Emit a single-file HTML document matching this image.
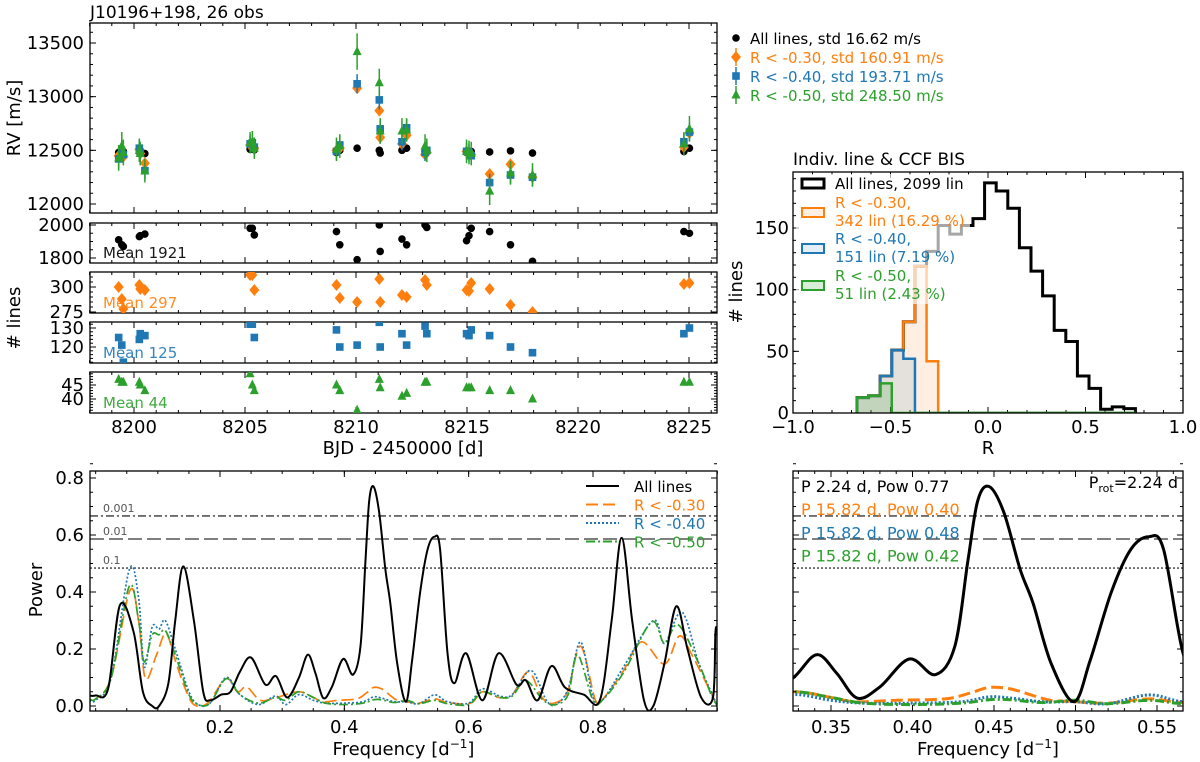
<!DOCTYPE html>
<html><head><meta charset="utf-8"><style>
html,body{margin:0;padding:0;background:#fff;}
svg{display:block;font-family:"DejaVu Sans","Liberation Sans",sans-serif;}
</style></head><body>
<svg id="fig" width="1200" height="762" viewBox="0 0 1200 762" xmlns="http://www.w3.org/2000/svg"></svg>
<script>
// ---------- DATA ----------
const obsTimes=[8199.31,8199.45,8199.52,8200.24,8200.28,8200.49,8205.23,8205.33,8205.42,8209.12,8209.27,8210.05,8211.05,8211.09,8212.07,8212.28,8213.11,8213.19,8214.98,8215.09,8215.19,8216.02,8216.96,8217.95,8224.77,8225.02];
const rvAll=[12480,12470,12490,12490,12480,12470,12510,12520,12505,12480,12500,12520,12500,12475,12500,12520,12490,12500,12480,12470,12490,12485,12495,12475,12490,12520];
const rvR30=[12450,12460,12440,12510,12470,12380,12550,12540,12520,12500,12520,13080,12870,12620,12560,12640,12460,12480,12490,12470,12460,12280,12370,12250,12530,12660];
const rvR40=[12420,12490,12460,12520,12480,12310,12560,12570,12530,12490,12550,13120,12970,12700,12580,12710,12480,12500,12490,12480,12450,12200,12270,12250,12580,12670];
const rvR50=[12430,12540,12480,12500,12470,12310,12570,12580,12520,12510,12540,13420,13130,12680,12680,12690,12540,12500,12490,12480,12470,12120,12290,12270,12560,12700];
const errR40=[80,80,80,80,80,80,80,80,80,80,80,90,90,80,80,80,80,80,80,80,80,80,80,80,80,80];
const errR50=[120,130,120,110,110,110,100,100,100,110,110,170,130,120,120,110,110,110,110,110,110,130,110,110,110,120];
const nAll=[1910,1880,1870,1930,1935,1945,1980,1980,1940,1960,1880,1790,2000,1840,1915,1880,2000,1985,1905,1935,1980,1960,1880,1780,1960,1950];
const nR30=[300,288,278,302,298,297,312,312,297,302,289,285,308,285,292,290,307,302,297,296,304,298,282,275,303,304];
const nR40=[125,121,112,124,127,126,132,132,125,129,120,121,133,120,127,121,131,127,127,126,129,126,120,117,127,130];
const nR50=[47,46,46,46,45,43,49,45,43,45,43,36,47,44,41,42,46,46,44,44,44,43,43,40,46,46];

const binStart=-0.672, binWidth=0.0595;
const histAll=[12.5,14,30,51,74,119,131,152,145,152,157.6,186.6,180,166,134,115,95,67,58,30,20,3,5,3.5];
const histR30=[12.5,14,30,51,74,119,42,0,0,0,0,0,0,0,0,0,0,0,0,0,0,0,0,0];
const histR40=[12.5,14,30,51,44,0,0,0,0,0,0,0,0,0,0,0,0,0,0,0,0,0,0,0];
const histR50=[12.5,14,24,0,0,0,0,0,0,0,0,0,0,0,0,0,0,0,0,0,0,0,0,0];

const fapLevels=[0.667,0.586,0.484];
const fapLabels=["0.001","0.01","0.1"];

const freqAll=[-0.01,0.0,0.02,0.039,0.061,0.076,0.091,0.102,0.117,0.128,0.141,0.158,0.173,0.184,0.202,0.217,0.232,0.25,0.273,0.29,0.308,0.3267,0.3412,0.3535,0.366,0.38,0.398,0.414,0.426,0.434,0.44,0.447,0.456,0.466,0.474,0.485,0.499,0.509,0.522,0.534,0.545,0.554,0.566,0.577,0.596,0.622,0.648,0.677,0.692,0.711,0.733,0.755,0.785,0.811,0.83,0.846,0.863,0.882,0.897,0.915,0.934,0.952,0.974,0.993,0.997,1.0];
const powAll=[0.037,0.037,0.06,0.354,0.26,0.05,0.0,0.0,0.08,0.3,0.49,0.3,0.05,0.02,0.04,0.05,0.12,0.17,0.075,0.105,0.03,0.098,0.18,0.115,0.028,0.067,0.165,0.11,0.21,0.51,0.72,0.77,0.68,0.48,0.36,0.15,0.015,0.16,0.40,0.55,0.594,0.55,0.185,0.08,0.185,0.02,0.185,0.075,0.09,0.02,0.14,0.065,0.04,0.02,0.3,0.59,0.3,0.02,0.0,0.15,0.35,0.2,0.03,0.03,0.26,0.26];

const freqR30=[-0.01,0.0,0.025,0.055,0.069,0.08,0.098,0.113,0.128,0.143,0.158,0.18,0.21,0.228,0.243,0.265,0.291,0.3267,0.35,0.365,0.39,0.42,0.435,0.447,0.46,0.475,0.485,0.5,0.52,0.545,0.566,0.603,0.622,0.648,0.67,0.696,0.718,0.737,0.759,0.78,0.804,0.818,0.848,0.878,0.915,0.939,0.959,0.989,1.0];
const powR30=[0.025,0.025,0.1,0.405,0.3,0.096,0.18,0.255,0.16,0.067,0.005,0.01,0.096,0.05,0.067,0.02,0.03,0.05,0.03,0.015,0.02,0.025,0.045,0.065,0.06,0.035,0.02,0.015,0.01,0.025,0.012,0.01,0.05,0.03,0.04,0.12,0.03,0.01,0.05,0.21,0.02,0.03,0.12,0.225,0.147,0.246,0.18,0.05,0.0];

const freqR40=[-0.01,0.0,0.025,0.054,0.069,0.078,0.091,0.102,0.112,0.128,0.15,0.165,0.184,0.21,0.232,0.262,0.289,0.306,0.3267,0.35,0.37,0.4,0.43,0.447,0.46,0.48,0.5,0.52,0.545,0.566,0.6,0.622,0.65,0.67,0.7,0.725,0.74,0.76,0.78,0.8,0.815,0.85,0.897,0.915,0.943,0.97,0.99,1.0];
const powR40=[0.02,0.02,0.1,0.478,0.38,0.137,0.278,0.27,0.3,0.2,0.05,0.005,0.01,0.1,0.04,0.005,0.035,0.005,0.04,0.02,0.01,0.01,0.015,0.032,0.028,0.015,0.015,0.008,0.039,0.015,0.01,0.06,0.035,0.04,0.125,0.02,0.005,0.06,0.225,0.03,0.02,0.14,0.3,0.22,0.33,0.15,0.05,0.0];

const freqR50=[-0.01,0.0,0.025,0.054,0.069,0.078,0.091,0.102,0.112,0.128,0.15,0.165,0.184,0.21,0.232,0.262,0.289,0.306,0.3267,0.35,0.37,0.4,0.43,0.447,0.46,0.48,0.5,0.52,0.545,0.566,0.6,0.622,0.65,0.67,0.692,0.72,0.74,0.76,0.775,0.8,0.815,0.85,0.894,0.915,0.937,0.97,0.99,1.0];
const powR50=[0.025,0.025,0.1,0.42,0.3,0.155,0.25,0.25,0.265,0.18,0.04,0.005,0.01,0.096,0.04,0.01,0.03,0.02,0.05,0.03,0.01,0.005,0.01,0.022,0.022,0.012,0.02,0.008,0.02,0.008,0.005,0.05,0.03,0.035,0.09,0.02,0.005,0.04,0.18,0.02,0.02,0.12,0.295,0.22,0.285,0.15,0.04,0.0];

// ---------- HELPERS ----------
const NS="http://www.w3.org/2000/svg";
const svg=document.getElementById('fig');
const C={k:'#000',o:'#ff7f0e',b:'#1f77b4',g:'#2ca02c'};
function mk(tag,attrs,parent){const e=document.createElementNS(NS,tag);for(const k in attrs)e.setAttribute(k,attrs[k]);(parent||svg).appendChild(e);return e;}
function lin(d0,d1,r0,r1){return v=>r0+(v-d0)*(r1-r0)/(d1-d0);}
function txt(s,x,y,o,parent){const t=mk('text',Object.assign({x:x,y:y,'font-size':17,fill:'#000'},o||{}),parent);t.textContent=s;return t;}
function frame(x0,y0,x1,y1,name){const r=mk('rect',{x:x0,y:y0,width:x1-x0,height:y1-y0,fill:'none',stroke:'#000','stroke-width':1.3});return r;}
function ticksX(sx,vals,y0,y1,len,g){vals.forEach(v=>{const x=sx(v);mk('line',{x1:x,x2:x,y1:y1,y2:y1-len,stroke:'#000','stroke-width':1},g);mk('line',{x1:x,x2:x,y1:y0,y2:y0+len,stroke:'#000','stroke-width':1},g);});}
function ticksY(sy,vals,x0,x1,len,g){vals.forEach(v=>{const y=sy(v);mk('line',{x1:x0,x2:x0+len,y1:y,y2:y,stroke:'#000','stroke-width':1},g);mk('line',{x1:x1,x2:x1-len,y1:y,y2:y,stroke:'#000','stroke-width':1},g);});}
function range(a,b,s){const r=[];for(let v=a;v<=b+1e-9;v+=s)r.push(Math.round(v*1e6)/1e6);return r;}
function smoothPath(pts){let d='M'+pts[0][0]+','+pts[0][1];for(let i=0;i<pts.length-1;i++){const p0=pts[Math.max(0,i-1)],p1=pts[i],p2=pts[i+1],p3=pts[Math.min(pts.length-1,i+2)];const c1x=p1[0]+(p2[0]-p0[0])/6,c1y=p1[1]+(p2[1]-p0[1])/6,c2x=p2[0]-(p3[0]-p1[0])/6,c2y=p2[1]-(p3[1]-p1[1])/6;d+=`C${c1x},${c1y},${c2x},${c2y},${p2[0]},${p2[1]}`;}return d;}
function clip(id,x0,y0,x1,y1){const cp=mk('clipPath',{id:id});mk('rect',{x:x0,y:y0,width:x1-x0,height:y1-y0},cp);}

// ---------- TOP LEFT: RV ----------
const RX0=90,RX1=717;
const tx=lin(8200,8225,134,689);
const ry=lin(12000,13500,204,43);
txt('J10196+198, 26 obs',90,18,{'font-size':17});
const gRV=mk('g',{});
frame(RX0,23,RX1,213,'rv-frame');
ticksX(tx,range(8198,8226,1),23,213,3,gRV);ticksX(tx,range(8200,8225,5),23,213,6,gRV);
ticksY(ry,range(12000,13600,100),RX0,RX1,3,gRV);ticksY(ry,range(12000,13500,500),RX0,RX1,6,gRV);
[12000,12500,13000,13500].forEach(v=>{const t=txt(String(v),84,ry(v)+6,{'text-anchor':'end','font-size':18});});
const yl=txt('RV [m/s]',0,0,{'font-size':18,transform:'translate(20,118) rotate(-90)','text-anchor':'middle'});
function marker(type,x,y,col,g){
  if(type==='c')return mk('circle',{cx:x,cy:y,r:3.8,fill:col},g);
  if(type==='d')return mk('polygon',{points:`${x},${y-6} ${x+5},${y} ${x},${y+6} ${x-5},${y}`,fill:col},g);
  if(type==='s')return mk('rect',{x:x-3.8,y:y-3.8,width:7.6,height:7.6,fill:col},g);
  return mk('polygon',{points:`${x},${y-5.5} ${x+4.5},${y+3.5} ${x-4.5},${y+3.5}`,fill:col},g);
}
clip('cRV',RX0,23,RX1,213);
const gRVd=mk('g',{'clip-path':'url(#cRV)'});
obsTimes.forEach((t,i)=>{const m=marker('c',tx(t),ry(rvAll[i]),C.k,gRVd);});
obsTimes.forEach((t,i)=>{mk('line',{x1:tx(t),x2:tx(t),y1:ry(rvR30[i]-25),y2:ry(rvR30[i]+25),stroke:C.o,'stroke-width':1.5},gRVd);const m=marker('d',tx(t),ry(rvR30[i]),C.o,gRVd);});
obsTimes.forEach((t,i)=>{mk('line',{x1:tx(t),x2:tx(t),y1:ry(rvR40[i]-errR40[i]),y2:ry(rvR40[i]+errR40[i]),stroke:C.b,'stroke-width':1.5},gRVd);const m=marker('s',tx(t),ry(rvR40[i]),C.b,gRVd);});
obsTimes.forEach((t,i)=>{mk('line',{x1:tx(t),x2:tx(t),y1:ry(rvR50[i]-errR50[i]),y2:ry(rvR50[i]+errR50[i]),stroke:C.g,'stroke-width':1.5},gRVd);const m=marker('t',tx(t),ry(rvR50[i]),C.g,gRVd);});
// legend
const legRV=[['c',C.k,'All lines, std 16.62 m/s'],['d',C.o,'R < -0.30, std 160.91 m/s'],['s',C.b,'R < -0.40, std 193.71 m/s'],['t',C.g,'R < -0.50, std 248.50 m/s']];
legRV.forEach((l,i)=>{const y=38+i*19;if(i>0)mk('line',{x1:736,x2:736,y1:y-9,y2:y+9,stroke:l[1],'stroke-width':1.5});marker(l[0],736,y,l[1]);const t=txt(l[2],750,y+6,{fill:l[1],'font-size':15});});

// ---------- SUBPANELS: # lines ----------
const subs=[
 {y0:223,y1:263,d0:1800,d1:2000,p0:258,p1:225,vals:nAll,col:C.k,m:'c',maj:[1800,2000],minStep:50,mn:1750,mx:2050,lab:'Mean 1921',name:'nlines-all'},
 {y0:272,y1:313,d0:275,d1:300,p0:312,p1:287,vals:nR30,col:C.o,m:'d',maj:[275,300],minStep:5,mn:270,mx:320,lab:'Mean 297',name:'nlines-r030'},
 {y0:322,y1:363,d0:120,d1:130,p0:347,p1:328,vals:nR40,col:C.b,m:'s',maj:[120,130],minStep:2,mn:110,mx:134,lab:'Mean 125',name:'nlines-r040'},
 {y0:372,y1:413,d0:40,d1:45,p0:399,p1:385,vals:nR50,col:C.g,m:'t',maj:[40,45],minStep:1,mn:35,mx:50,lab:'Mean 44',name:'nlines-r050'}];
subs.forEach((s,k)=>{
  const sy=lin(s.d0,s.d1,s.p0,s.p1);
  const g=mk('g',{});
  frame(RX0,s.y0,RX1,s.y1,s.name+'-frame');
  ticksX(tx,range(8198,8226,1),s.y0,s.y1,3,g);ticksX(tx,range(8200,8225,5),s.y0,s.y1,6,g);
  ticksY(sy,range(s.mn,s.mx,s.minStep).filter(v=>sy(v)>=s.y0&&sy(v)<=s.y1),RX0,RX1,3,g);
  ticksY(sy,s.maj,RX0,RX1,6,g);
  s.maj.forEach(v=>{const t=txt(String(v),84,sy(v)+6,{'text-anchor':'end','font-size':18});});
  const id='cS'+k;clip(id,RX0,s.y0,RX1,s.y1);
  const gd=mk('g',{'clip-path':`url(#${id})`});
  s.vals.forEach((v,i)=>{const m=marker(s.m,tx(obsTimes[i]),sy(v),s.col,gd);});
  const t=txt(s.lab,103,s.y1-5,{fill:s.col,'font-size':15,opacity:0.9});
});
[8200,8205,8210,8215,8220,8225].forEach(v=>{const t=txt(String(v),tx(v),433,{'text-anchor':'middle','font-size':18});});
txt('BJD - 2450000 [d]',403,454,{'text-anchor':'middle','font-size':18});
txt('# lines',0,0,{'font-size':18,transform:'translate(20,318) rotate(-90)','text-anchor':'middle'});

// ---------- HISTOGRAM ----------
const HX0=793,HX1=1183,HY0=172,HY1=413;
const hx=lin(-1,1,HX0,HX1), hy=lin(0,150,413,228);
txt('Indiv. line & CCF BIS',793,165,{'font-size':17});
const gH=mk('g',{});
clip('cH',HX0,HY0,HX1,HY1);
const gHd=mk('g',{'clip-path':'url(#cH)'});
function stepPath(arr){let d=`M${hx(binStart)},${hy(0)}`;arr.forEach((v,i)=>{const a=hx(binStart+i*binWidth),b=hx(binStart+(i+1)*binWidth);d+=`L${a},${hy(v)}L${b},${hy(v)}`;});d+=`L${hx(binStart+arr.length*binWidth)},${hy(0)}`;return d;}
[[histAll,C.k,'none','hist-all-lines',3],[histR30,C.o,'rgba(255,127,14,0.12)','hist-r030',2.5],[histR40,C.b,'rgba(31,119,180,0.12)','hist-r040',2.5],[histR50,C.g,'rgba(44,160,44,0.18)','hist-r050',2.5]].forEach(h=>{
  const p=mk('path',{d:stepPath(h[0]),fill:h[2],stroke:h[1],'stroke-width':h[4],'stroke-linejoin':'miter'},gHd);
});
mk('rect',{x:796,y:174,width:174,height:130,fill:'#fff',opacity:0.65},gHd);
frame(HX0,HY0,HX1,HY1,'hist-frame');
ticksX(hx,range(-1,1,0.1),HY0,HY1,3,gH);ticksX(hx,range(-1,1,0.5),HY0,HY1,6,gH);
ticksY(hy,range(0,190,10),HX0,HX1,3,gH);ticksY(hy,[0,50,100,150],HX0,HX1,6,gH);
[0,50,100,150].forEach(v=>{const t=txt(String(v),789,hy(v)+6,{'text-anchor':'end','font-size':18});});
[-1,-0.5,0,0.5,1].forEach(v=>{const s=v===0?'0.0':(v<0?'\u2212':'')+Math.abs(v).toFixed(1);const t=txt(s,hx(v),433,{'text-anchor':'middle','font-size':18});});
txt('R',988,454,{'text-anchor':'middle','font-size':18});
txt('# lines',0,0,{'font-size':18,transform:'translate(742,292) rotate(-90)','text-anchor':'middle'});
const legH=[[C.k,'none',['All lines, 2099 lin'],183],[C.o,'rgba(255,127,14,0.12)',['R < -0.30,','342 lin (16.29 %)'],212],[C.b,'rgba(31,119,180,0.12)',['R < -0.40,','151 lin (7.19 %)'],248],[C.g,'rgba(44,160,44,0.18)',['R < -0.50,','51 lin (2.43 %)'],285]];
legH.forEach((l,i)=>{mk('rect',{x:802,y:l[3]-4,width:22,height:9,fill:l[1],stroke:l[0],'stroke-width':i===0?3:2});l[2].forEach((s,j)=>{const t=txt(s,835,l[3]+(i===0?6:(j===0?-4:14)),{fill:l[0],'font-size':15});});});

// ---------- PERIODOGRAMS ----------
const PY0=471,PY1=711;
const py=lin(0,0.8,706,478);
function periodogram(x0,x1,px,id,lwK,lwC,labelsY,majX,minX,fmtX,name){
  const g=mk('g',{});
  clip(id,x0,PY0,x1,PY1);
  const gd=mk('g',{'clip-path':`url(#${id})`},g);
  const fapDash=['8,3,2,3','14,5','2,2'];
  fapLevels.forEach((v,i)=>{const l=mk('line',{x1:x0,x2:x1,y1:py(v),y2:py(v),stroke:'#555','stroke-width':1.6,'stroke-dasharray':fapDash[i]},gd);});
  const series=[[freqR30,powR30,C.o,'12,5','r030'],[freqR40,powR40,C.b,'2,2','r040'],[freqR50,powR50,C.g,'9,3,2,3','r050'],[freqAll,powAll,C.k,'','all-lines']];
  series.forEach(s=>{const pts=s[0].map((f,i)=>[px(f),py(s[1][i])]);const p=mk('path',{d:smoothPath(pts),fill:'none',stroke:s[2],'stroke-width':s[4]==='all-lines'?lwK:lwC,'stroke-dasharray':s[3],'stroke-linejoin':'round'},gd);});
  frame(x0,PY0,x1,PY1,name+'-frame');
  ticksX(px,minX,PY0,PY1,3,g);ticksX(px,majX,PY0,PY1,6,g);
  ticksY(py,range(0,0.85,0.05),x0,x1,3,g);ticksY(py,range(0,0.8,0.2),x0,x1,6,g);
  if(labelsY)range(0,0.8,0.2).forEach(v=>{const t=txt(v.toFixed(1),84,py(v)+6,{'text-anchor':'end','font-size':18});});
  majX.forEach(v=>{const t=txt(v.toFixed(fmtX),px(v),733,{'text-anchor':'middle','font-size':18});});
  const xt=mk('text',{x:(x0+x1)/2,y:755,'text-anchor':'middle','font-size':18});xt.innerHTML='Frequency [d<tspan dy="-7" font-size="12">\u22121</tspan><tspan dy="7">]</tspan>';
}
const pxL=lin(0.2,0.8,220,593);
periodogram(90,717,pxL,'cPL',2,1.7,true,[0.2,0.4,0.6,0.8],range(0,1,0.05),1,'periodogram-full');
const pxR=lin(0.35,0.55,831,1157);
periodogram(793,1183,pxR,'cPR',3,3,false,[0.35,0.4,0.45,0.5,0.55],range(0.33,0.56,0.01),2,'periodogram-zoom');
txt('Power',0,0,{'font-size':18,transform:'translate(42,590) rotate(-90)','text-anchor':'middle'});
fapLabels.forEach((s,i)=>{const t=txt(s,103,py(fapLevels[i])-4,{'font-size':11,fill:'#555'});});
// left legend
const legP=[[C.k,'','All lines'],[C.o,'12,5','R < -0.30'],[C.b,'2,2','R < -0.40'],[C.g,'9,3,2,3','R < -0.50']];
legP.forEach((l,i)=>{const y=486+i*18.5;mk('line',{x1:586,x2:619,y1:y,y2:y,stroke:l[0],'stroke-width':2,'stroke-dasharray':l[1]});const t=txt(l[2],634,y+6,{fill:l[0],'font-size':15});});
// right annotations
[[C.k,'P 2.24 d, Pow 0.77'],[C.o,'P 15.82 d, Pow 0.40'],[C.b,'P 15.82 d, Pow 0.48'],[C.g,'P 15.82 d, Pow 0.42']].forEach((a,i)=>{const t=txt(a[1],801,492+i*23.2,{fill:a[0],'font-size':16});});
const pr=mk('text',{x:1178,y:488,'text-anchor':'end','font-size':16});pr.innerHTML='P<tspan dy="4" font-size="11">rot</tspan><tspan dy="-4">=2.24 d</tspan>';
</script>
</body></html>
